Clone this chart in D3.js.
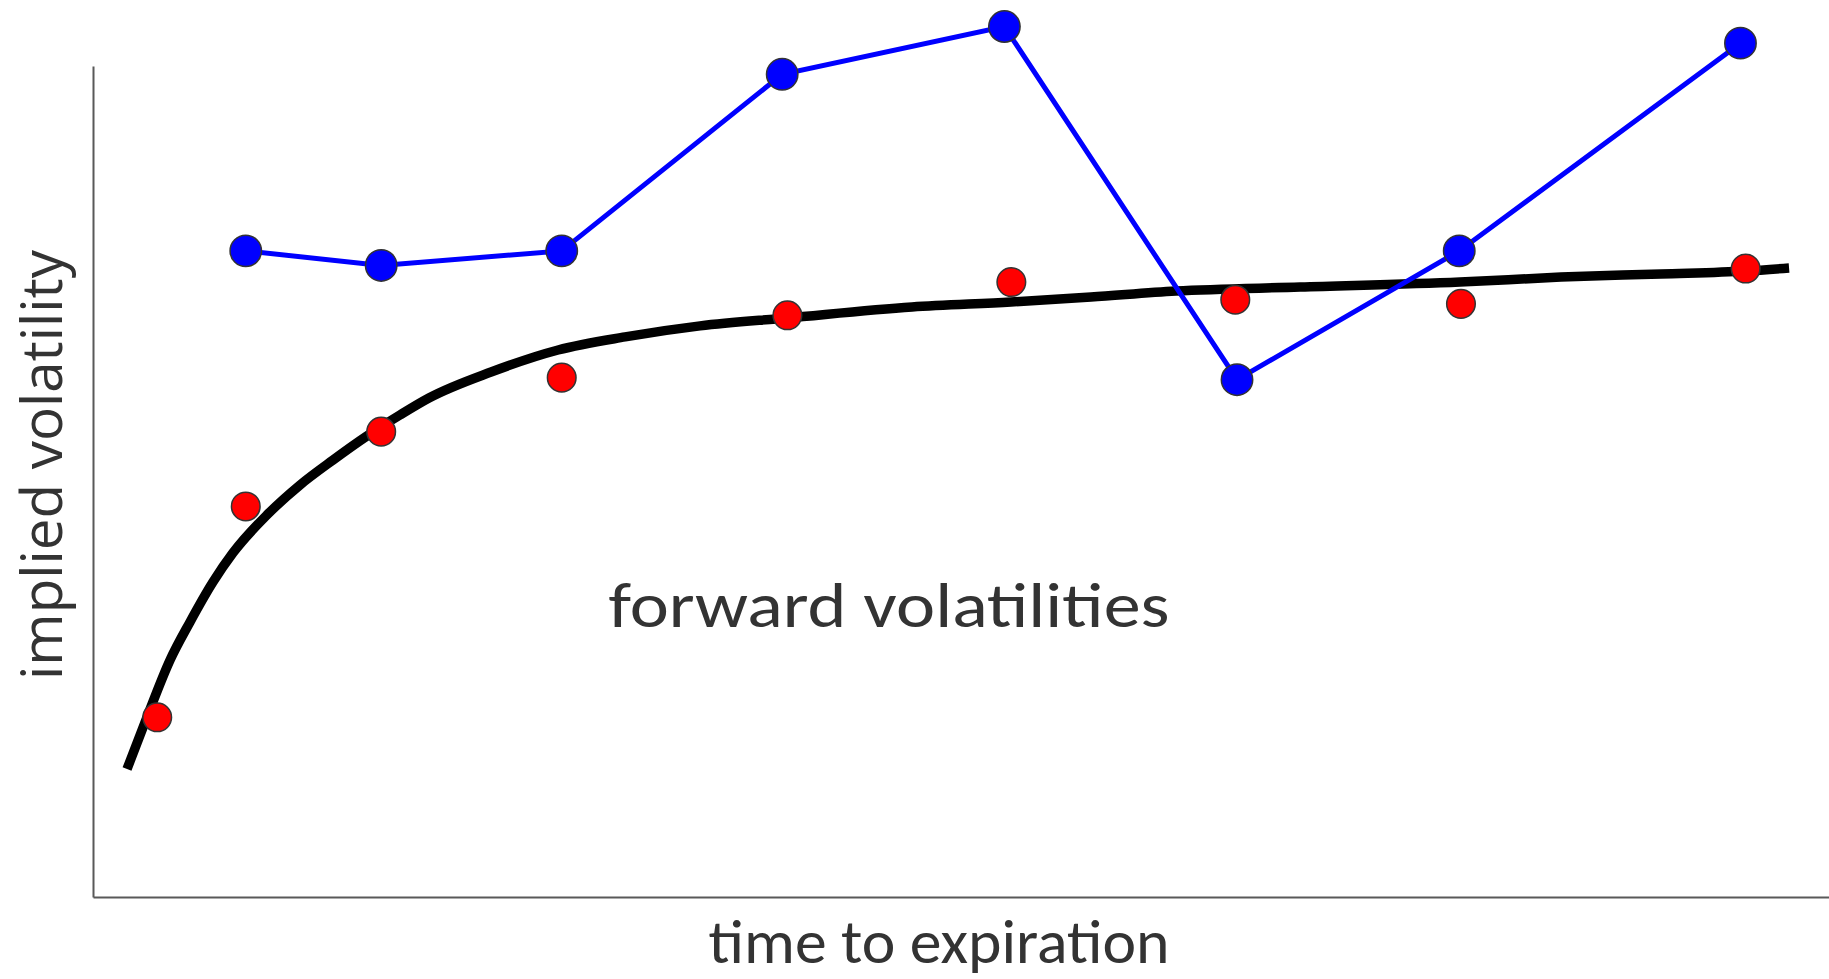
<!DOCTYPE html>
<html>
<head>
<meta charset="utf-8">
<script src="https://cdn.jsdelivr.net/npm/d3@7"></script>
<style>
  html, body { margin: 0; padding: 0; background: #ffffff; }
  svg { display: block; }
</style>
</head>
<body>
<svg id="chart" width="1829" height="979"></svg>
<script>
// ---- data (time to expiration in years, implied volatility in %) ----
const blueTimes = [0.88, 1.66, 2.70, 3.97, 5.25, 6.59, 7.87, 9.49];
const blueVols  = [31.1, 30.4, 31.1, 39.6, 41.9, 24.9, 31.1, 41.1];

const redTimes  = [0.37, 0.88, 1.66, 2.70, 4.00, 5.29, 6.58, 7.88, 9.52];
const redVols   = [8.65, 18.8, 22.4, 25.0, 28.0, 29.6, 28.75, 28.55, 30.25];

const curveTimes = [0.196, 0.311, 0.444, 0.559, 0.691, 0.806, 1.002, 1.192, 1.382, 1.578, 1.768,
                    1.935, 2.293, 2.679, 3.065, 3.497, 3.998, 4.718, 5.288, 5.749, 6.238, 6.953,
                    7.874, 8.456, 9.032, 9.522, 9.770];
const curveVols  = [6.16, 8.66, 11.41, 13.24, 15.16, 16.56, 18.39, 19.83, 21.03, 22.19, 23.20,
                    24.02, 25.27, 26.33, 26.96, 27.49, 27.87, 28.40, 28.64, 28.88, 29.17, 29.36,
                    29.60, 29.84, 29.99, 30.13, 30.28];

const xDomain = [0, 10];
const yDomain = [0, 40];

const xLabel = "time to expiration";
const yLabel = "implied volatility";
const annotation = "forward volatilities";
const annotationPos = [2.97, 13.0];   // data coords of annotation baseline start

// ---- layout ----
const svg = d3.select("#chart");
const x = d3.scaleLinear().domain(xDomain).range([93, 1829]);
const y = d3.scaleLinear().domain(yDomain).range([897, 66]);

const axisColor = "#595959";
const textColor = "#333333";

// axes (domain lines only)
const gx = svg.append("g").attr("transform", `translate(0,${y(0)})`)
  .call(d3.axisBottom(x).ticks(0).tickSizeOuter(0));
const gy = svg.append("g").attr("transform", `translate(${x(0)},0)`)
  .call(d3.axisLeft(y).ticks(0).tickSizeOuter(0));
[gx, gy].forEach(g => {
  g.select(".domain").attr("stroke", axisColor).attr("stroke-width", 2);
  g.selectAll(".tick").remove();
});

// black term-structure curve
const curveData = curveTimes.map((t, i) => [t, curveVols[i]]);
svg.append("path")
  .datum(curveData)
  .attr("fill", "none")
  .attr("stroke", "#000000")
  .attr("stroke-width", 9.5)
  .attr("d", d3.line().x(d => x(d[0])).y(d => y(d[1])).curve(d3.curveMonotoneX));

// red implied vols
const redData = redTimes.map((t, i) => [t, redVols[i]]);
svg.append("g").selectAll("circle").data(redData).join("circle")
  .attr("cx", d => x(d[0])).attr("cy", d => y(d[1]))
  .attr("r", 14.3)
  .attr("fill", "#ff0000")
  .attr("stroke", "#333333").attr("stroke-width", 1.5);

// blue forward vols
const blueData = blueTimes.map((t, i) => [t, blueVols[i]]);
svg.append("path")
  .datum(blueData)
  .attr("fill", "none")
  .attr("stroke", "#0000ff")
  .attr("stroke-width", 5)
  .attr("d", d3.line().x(d => x(d[0])).y(d => y(d[1])));
svg.append("g").selectAll("circle").data(blueData).join("circle")
  .attr("cx", d => x(d[0])).attr("cy", d => y(d[1]))
  .attr("r", 15.7)
  .attr("fill", "#0000ff")
  .attr("stroke", "#333333").attr("stroke-width", 1.5);

// texts
const calibri = "Calibri, Carlito, Lato, sans-serif";

const ann = svg.append("text")
  .attr("x", x(annotationPos[0])).attr("y", y(annotationPos[1]))
  .attr("font-family", calibri).attr("font-size", 64)
  .attr("fill", textColor)
  .text(annotation);
ann.attr("textLength", 561).attr("lengthAdjust", "spacingAndGlyphs");

const xl = svg.append("text")
  .attr("x", 939).attr("y", 963)
  .attr("text-anchor", "middle")
  .attr("font-family", calibri).attr("font-size", 62)
  .attr("fill", textColor)
  .text(xLabel);
xl.attr("textLength", 461).attr("lengthAdjust", "spacingAndGlyphs");

const yl = svg.append("text")
  .attr("transform", "translate(62,465) rotate(-90)")
  .attr("text-anchor", "middle")
  .attr("font-family", "'Open Sans', sans-serif").attr("font-size", 54)
  .attr("fill", textColor)
  .text(yLabel);
const yLen = yl.node().getComputedTextLength();
yl.attr("font-size", 54 * 430 / yLen);
</script>
</body>
</html>
